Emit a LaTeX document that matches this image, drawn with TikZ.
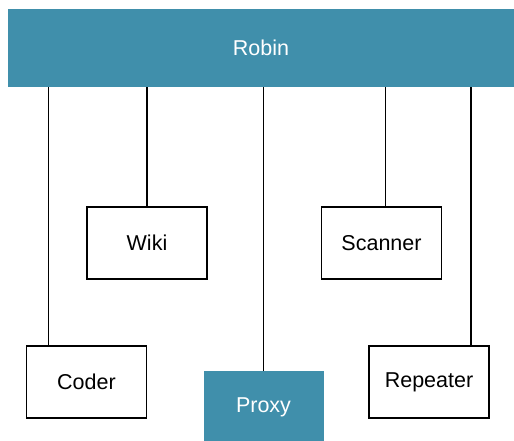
\documentclass[tikz,border=0pt]{standalone}
\usepackage{fontspec}
\setmainfont{Liberation Sans}
\usepackage{tikz}

\definecolor{robinteal}{RGB}{64,143,171}

\begin{document}
\begin{tikzpicture}[
        x=1pt, y=-1pt,
        font=\fontsize{21.5}{25}\selectfont,
        part/.style={draw=black, line width=1.1pt, fill=white,
            minimum width=120pt, minimum height=72pt,
            inner sep=0pt, outer sep=0pt},
        core/.style={fill=robinteal, text=white,
            inner sep=0pt, outer sep=0pt},
        link/.style={line width=1.1pt}
    ]
        \clip (0,0) rectangle (514,440);
        \fill[white] (0,0) rectangle (514,440);
        \node[core, minimum width=506pt, minimum height=78pt] (robin) at (261,48) {Robin};
        \node[part] (wiki) at (147,243) {Wiki};
        \node[part] (scanner) at (381.5,243) {Scanner};
        \node[part] (coder) at (86.5,382) {Coder};
        \node[part] (repeater) at (429,382) {Repeater};
        \node[core, minimum width=120pt, minimum height=72pt] (proxy) at (263.5,407) {Proxy};
        % connectors up to the bar
        \draw[link] ([xshift=-38pt]coder.north) -- ([xshift=-38pt]coder.north |- robin.south);
        \draw[link] (wiki.north) -- (wiki.north |- robin.south);
        \draw[link] (proxy.north) -- (proxy.north |- robin.south);
        \draw[link] ([xshift=4pt]scanner.north) -- ([xshift=4pt]scanner.north |- robin.south);
        \draw[link] ([xshift=42pt]repeater.north) -- ([xshift=42pt]repeater.north |- robin.south);
    \end{tikzpicture}
\end{document}
